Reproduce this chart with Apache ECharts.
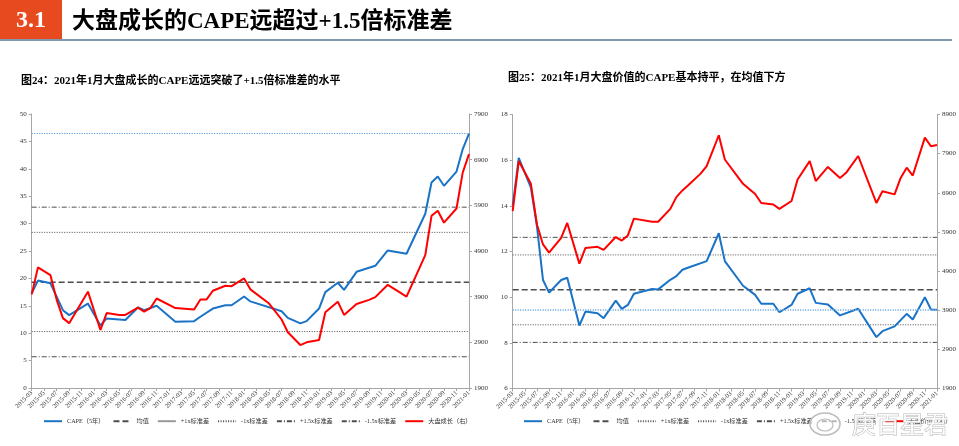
<!DOCTYPE html>
<html>
<head>
<meta charset="utf-8">
<script src="https://cdn.jsdelivr.net/npm/echarts/dist/echarts.min.js"></script>
<style>
  html, body { margin: 0; padding: 0; background: #fff; }
  #wrap { position: relative; width: 959px; height: 446px; }
  #left { position: absolute; left: 0; top: 0; width: 959px; height: 446px; }
  #right { position: absolute; left: 480px; top: 0; width: 479px; height: 446px; }
</style>
</head>
<body>
<div id="wrap">
  <div id="left"></div>
  <div id="right"></div>
</div>
<script>
// monthly categories 2015-03 .. 2021-01, labels shown every 2 months
const months = []
let yy = 2015, mm = 3
while (yy < 2021 || mm <= 1) {
  months.push(yy + '-' + String(mm).padStart(2, '0'))
  mm++
  if (mm > 12) { mm = 1; yy++ }
}

// 图24 大盘成长: CAPE (left axis) and index (right axis), null = no vertex
const growthCape = [
  17.3, 19.6, null, 19.1, null, 14.2, 13.3, null, null, 15.4,
  null, 11.4, 12.7, null, null, 12.4, null, 14.7, 14.2, null,
  15.0, null, null, 12.1, null, null, 12.2, 13.0, null, 14.5,
  null, 15.1, 15.1, null, 16.7, 15.8, null, null, null, null,
  14.0, 12.8, null, 11.8, 12.2, null, 14.5, 17.5, null, 19.2,
  17.9, null, 21.2, null, null, 22.3, null, 25.1, null, null,
  24.5, null, null, 31.8, 37.5, 38.6, 36.9, null, 39.5, 43.6,
  46.4
]
const growthIndex = [
  3950, 4540, null, 4370, 3830, 3430, 3320, null, null, 4010,
  null, 3170, 3540, null, 3500, 3500, null, 3660, 3570, 3650,
  3860, null, null, 3650, null, null, 3620, 3840, 3840, 4030,
  null, 4140, 4130, null, 4300, 4060, null, null, 3750, null,
  3400, 3120, null, 2840, 2900, null, 2950, 3560, null, 3790,
  3500, null, 3740, null, 3830, 3890, null, 4160, null, null,
  3900, null, null, 4810, 5670, 5780, 5520, null, 5830, 6620,
  7020
]
// mean, +1σ, -1σ, +1.5σ, -1.5σ
const growthLevels = [19.3, 28.4, 10.3, 33.0, 5.7]

// 图25 大盘价值
const valueCape = [
  14.0, 16.1, null, 14.8, 13.1, 10.75, 10.2, null, 10.75, 10.85,
  null, 8.76, 9.37, null, 9.30, 9.08, null, 9.85, 9.49, 9.66,
  10.15, null, null, 10.36, 10.34, null, 10.76, 10.92, 11.2, 11.3,
  null, null, 11.58, null, 12.8, 11.58, null, null, 10.5, null,
  10.1, 9.71, null, 9.71, 9.34, null, 9.66, 10.15, null, 10.39,
  9.75, null, 9.68, null, 9.2, null, null, 9.49, null, null,
  8.25, 8.51, null, 8.72, null, 9.27, 9.02, null, 10.0, 9.46,
  9.45
]
const valueIndex = [
  6430, 7710, null, 7130, 6090, 5580, 5370, null, 5750, 6130,
  null, 5090, 5490, null, 5520, 5440, null, 5770, 5680, 5810,
  6240, null, null, 6160, 6160, null, 6490, 6790, 6960, 7100,
  null, 7390, 7580, null, 8370, 7750, null, null, 7130, null,
  6870, 6640, null, 6600, 6490, null, 6690, 7240, null, 7710,
  7200, null, 7560, null, 7280, 7410, null, 7840, null, null,
  6640, 6940, null, 6860, 7280, 7540, 7340, null, 8310, 8090,
  8120
]
const valueLevels = [10.32, 11.85, 8.79, 12.62, 8.02]

// axis ranges [min, max, interval]
const growthLeftAxis = [0, 50, 5]
const growthRightAxis = [1900, 7900, 1000]
const valueLeftAxis = [6, 18, 2]
const valueRightAxis = [1900, 8900, 1000]

const refNames = ['均值', '+1x标准差', '-1x标准差', '+1.5x标准差', '-1.5x标准差']
const serif = '"Liberation Serif", "Noto Sans CJK SC", serif'
const blue = '#1A73C6'
const red = '#FF0000'
const refColor = '#4d4d4d'
const axisColor = '#a6a6a6'

function panel(cfg) {
  const axisLine = { show: true, lineStyle: { color: axisColor, width: 1 } }
  const axisTick = { show: true, length: 3, lineStyle: { color: axisColor } }
  const axisLabel = { color: '#333', fontFamily: serif, fontSize: 7, margin: 5, formatter: v => String(v) }
  const refSeries = refNames.map((name, i) => ({
    name: name,
    type: 'line',
    yAxisIndex: 0,
    data: months.map(() => cfg.levels[i]),
    symbol: 'none',
    silent: true,
    lineStyle: Object.assign({ color: refColor }, cfg.refStyles[i]),
    itemStyle: { color: refColor }
  }))
  return {
    grid: cfg.grid,
    legend: {
      data: ['CAPE（5年）'].concat(cfg.legendRefs, [cfg.indexName]),
      left: cfg.legendLeft,
      top: 418,
      width: cfg.legendWidth,
      padding: 0,
      itemWidth: 18,
      itemHeight: 8,
      itemGap: cfg.legendGap,
      itemStyle: { color: 'transparent', borderColor: 'transparent', borderWidth: 0, opacity: 0 },
      textStyle: { fontFamily: serif, fontSize: 6.2, color: '#333' }
    },
    xAxis: {
      type: 'category',
      data: months,
      boundaryGap: false,
      axisLine: axisLine,
      axisTick: Object.assign({ interval: 1 }, axisTick),
      axisLabel: { color: '#333', fontFamily: serif, interval: 1, rotate: 45, fontSize: 6.5, margin: 4 },
      splitLine: { show: false }
    },
    yAxis: [
      {
        type: 'value',
        min: cfg.leftAxis[0], max: cfg.leftAxis[1], interval: cfg.leftAxis[2],
        axisLine: axisLine, axisTick: axisTick, axisLabel: axisLabel,
        splitLine: { show: false }
      },
      {
        type: 'value',
        position: 'right',
        min: cfg.rightAxis[0], max: cfg.rightAxis[1], interval: cfg.rightAxis[2],
        axisLine: axisLine, axisTick: axisTick, axisLabel: axisLabel,
        splitLine: { show: false }
      }
    ],
    series: refSeries.concat([
      {
        name: 'CAPE（5年）',
        type: 'line',
        yAxisIndex: 0,
        data: cfg.cape,
        connectNulls: true,
        symbol: 'none',
        lineStyle: { color: blue, width: 2 },
        itemStyle: { color: blue },
        markLine: {
          silent: true,
          symbol: 'none',
          label: { show: false },
          lineStyle: cfg.nowLine,
          data: [{ yAxis: cfg.cape[cfg.cape.length - 1] }]
        }
      },
      {
        name: cfg.indexName,
        type: 'line',
        yAxisIndex: 1,
        data: cfg.index,
        connectNulls: true,
        symbol: 'none',
        lineStyle: { color: red, width: 2 },
        itemStyle: { color: red }
      }
    ])
  }
}

const dotted = [1, 1.5]
const dashDot = [5, 2, 1, 2]

const leftChart = echarts.init(document.getElementById('left'))
leftChart.setOption(Object.assign({
  animation: false,
  backgroundColor: 'transparent',
  graphic: [
    { type: 'rect', shape: { x: 0, y: 0, width: 62, height: 39 }, style: { fill: '#E84A1F' } },
    { type: 'rect', shape: { x: 0, y: 39, width: 952, height: 2 }, style: { fill: '#8199AF' } },
    {
      type: 'text', x: 31, y: 21,
      style: { text: '3.1', fill: '#fff', font: 'bold 24px ' + serif, align: 'center', verticalAlign: 'middle' }
    },
    {
      type: 'text', x: 72, y: 22,
      style: { text: '大盘成长的CAPE远超过+1.5倍标准差', fill: '#000', font: 'bold 23px ' + serif, verticalAlign: 'middle' }
    },
    {
      type: 'text', x: 21, y: 81,
      style: { text: '图24：2021年1月大盘成长的CAPE远远突破了+1.5倍标准差的水平', fill: '#000', font: 'bold 11px ' + serif, verticalAlign: 'middle' }
    }
  ]
}, panel({
  grid: { left: 31.7, right: 490, top: 114, bottom: 58 },
  legendLeft: 43,
  legendWidth: 900,
  legendGap: 8,
  legendRefs: ['均值', { name: '+1x标准差', lineStyle: { type: 'solid', color: '#999' } }, '-1x标准差', '+1.5x标准差', '-1.5x标准差'],
  indexName: '大盘成长（右）',
  cape: growthCape,
  index: growthIndex,
  levels: growthLevels,
  leftAxis: growthLeftAxis,
  rightAxis: growthRightAxis,
  refStyles: [
    { type: [6, 3], width: 1.5 },
    { type: dotted, width: 1 },
    { type: dotted, width: 1 },
    { type: dashDot, width: 1 },
    { type: dashDot, width: 1 }
  ],
  nowLine: { color: '#3F8ED8', type: dotted, width: 1 }
})))

const rightChart = echarts.init(document.getElementById('right'))
rightChart.setOption(Object.assign({
  animation: false,
  backgroundColor: 'transparent',
  graphic: [
    {
      type: 'text', x: 28, y: 78,
      style: { text: '图25：2021年1月大盘价值的CAPE基本持平，在均值下方', fill: '#000', font: 'bold 11px ' + serif, verticalAlign: 'middle' }
    },
    {
      type: 'ellipse', z: 100, shape: { cx: 345, cy: 424, rx: 15, ry: 11 },
      style: { fill: 'rgba(255,255,255,0.6)', stroke: '#bbb', lineWidth: 1.5 }
    },
    {
      type: 'ellipse', z: 100, shape: { cx: 345, cy: 425, rx: 8, ry: 6 },
      style: { fill: 'none', stroke: '#bbb', lineWidth: 1.2 }
    },
    {
      type: 'text', z: 100, x: 372, y: 424,
      style: { text: '庚百星君', fill: 'rgba(255,255,255,0.9)', stroke: '#b5b5b5', lineWidth: 1, font: '24px "Noto Sans CJK SC"', verticalAlign: 'middle' }
    }
  ]
}, panel({
  grid: { left: 32.7, right: 20.7, top: 114.5, bottom: 57.5 },
  legendLeft: 43,
  legendWidth: 436,
  legendGap: 8,
  legendRefs: refNames,
  indexName: '大盘价值（右）',
  cape: valueCape,
  index: valueIndex,
  levels: valueLevels,
  leftAxis: valueLeftAxis,
  rightAxis: valueRightAxis,
  refStyles: [
    { type: [6, 3], width: 1.5 },
    { type: dotted, width: 1 },
    { type: dotted, width: 1 },
    { type: dashDot, width: 1 },
    { type: dashDot, width: 1 }
  ],
  nowLine: { color: '#7DB3E6', type: dotted, width: 2 }
})))
</script>
</body>
</html>
